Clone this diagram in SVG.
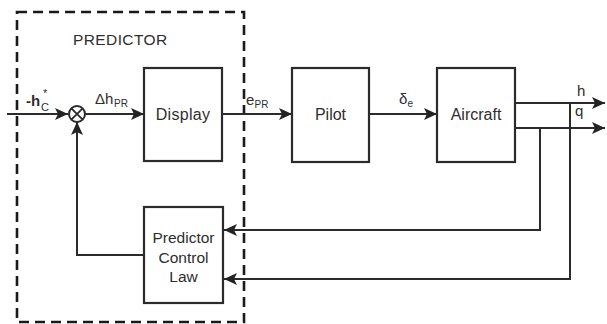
<svg xmlns="http://www.w3.org/2000/svg" width="607" height="324" viewBox="0 0 607 324">
  <defs>
    <marker id="arrow" markerUnits="userSpaceOnUse" markerWidth="14" markerHeight="12" refX="13" refY="6" orient="auto">
      <path d="M0,0 L13,6 L0,12 L3,6 Z" fill="#232323"/>
    </marker>
    <style>
      .blk { fill: #ffffff; stroke: #2b2b2b; stroke-width: 2.2; }
      .wire { fill: none; stroke: #2b2b2b; stroke-width: 2; }
      .lbl { font-family: "Liberation Sans", Arial, sans-serif; fill: #2e2e2e; }
      .big { font-size: 16px; }
      .sig { font-size: 15px; }
      .sub { font-size: 10px; }
      .boundary { fill: none; stroke: #1c1a18; stroke-width: 2.6; stroke-dasharray: 10 6; }
    </style>
  </defs>

  <rect width="607" height="324" fill="#ffffff"/>

  <!-- predictor boundary -->
  <g id="predictor">
    <rect class="boundary" x="17" y="12" width="227" height="310"/>
    <text class="lbl" x="73" y="45" font-size="15.5" letter-spacing="0.4">PREDICTOR</text>
  </g>

  <!-- connectors -->
  <g id="connectors">
    <line class="wire" x1="7" y1="114" x2="68" y2="114" marker-end="url(#arrow)"/>
    <line class="wire" x1="85" y1="114" x2="144" y2="114" marker-end="url(#arrow)"/>
    <line class="wire" x1="222" y1="114" x2="292" y2="114" marker-end="url(#arrow)"/>
    <line class="wire" x1="369" y1="114" x2="437" y2="114" marker-end="url(#arrow)"/>
    <line class="wire" x1="515" y1="103" x2="605" y2="103" marker-end="url(#arrow)"/>
    <line class="wire" x1="515" y1="128" x2="605" y2="128" marker-end="url(#arrow)"/>
    <polyline class="wire" points="540,128 540,230 224,230" marker-end="url(#arrow)"/>
    <polyline class="wire" points="570,103 570,279 224,279" marker-end="url(#arrow)"/>
    <polyline class="wire" points="144,255 77,255 77,122" marker-end="url(#arrow)"/>
  </g>

  <!-- summing junction -->
  <g id="sum">
    <circle cx="77" cy="114" r="8" fill="#ffffff" stroke="#2b2b2b" stroke-width="2"/>
    <path d="M71.3,108.3 L82.7,119.7 M82.7,108.3 L71.3,119.7" stroke="#2b2b2b" stroke-width="1.8"/>
  </g>

  <g id="display">
    <rect class="blk" x="144" y="68" width="78" height="93"/>
    <text class="lbl big" x="183" y="120" text-anchor="middle" letter-spacing="0.3">Display</text>
  </g>

  <g id="pilot">
    <rect class="blk" x="292" y="68" width="77" height="94"/>
    <text class="lbl big" x="330.5" y="120" text-anchor="middle">Pilot</text>
  </g>

  <g id="aircraft">
    <rect class="blk" x="437" y="68" width="78" height="94"/>
    <text class="lbl big" x="476" y="120" text-anchor="middle">Aircraft</text>
  </g>

  <g id="control-law">
    <rect class="blk" x="144" y="207" width="79" height="96"/>
    <text class="lbl" font-size="15.5" x="183.5" y="243" text-anchor="middle">Predictor</text>
    <text class="lbl" font-size="15.5" x="183.5" y="263" text-anchor="middle">Control</text>
    <text class="lbl" font-size="15.5" x="183.5" y="282" text-anchor="middle">Law</text>
  </g>

  <!-- signal labels -->
  <g id="labels">
    <text class="lbl sig" x="26" y="106" font-weight="bold">-h</text>
    <text class="lbl" x="43" y="97" font-size="11">*</text>
    <text class="lbl" x="41" y="111" font-size="11">C</text>

    <text class="lbl sig" x="95" y="104">Δh</text>
    <text class="lbl sub" x="114" y="107">PR</text>

    <text class="lbl sig" x="246" y="105">e</text>
    <text class="lbl sub" x="254.5" y="108">PR</text>

    <text class="lbl sig" x="399" y="104">δ</text>
    <text class="lbl sub" x="407.5" y="107">e</text>

    <text class="lbl sig" x="577" y="96">h</text>
    <text class="lbl sig" x="575" y="116">q</text>
  </g>
</svg>
